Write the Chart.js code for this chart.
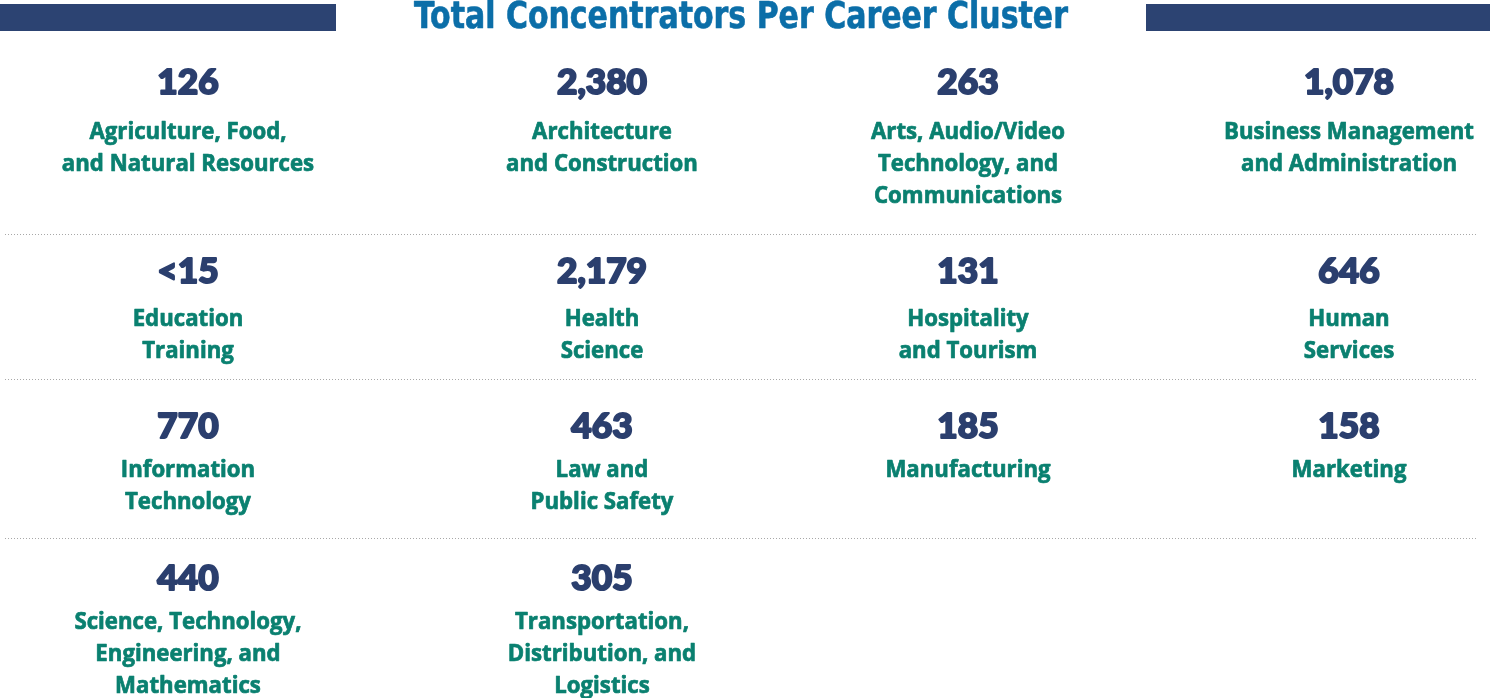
<!DOCTYPE html>
<html>
<head>
<meta charset="utf-8">
<script src="https://cdn.jsdelivr.net/npm/chart.js@4"></script>
<style>
  html, body { margin: 0; padding: 0; background: #ffffff; }
  #wrap { width: 1490px; height: 698px; }
</style>
</head>
<body>
<div id="wrap"><canvas id="c" width="1490" height="698"></canvas></div>
<script>
// ---------- DATA ----------
const chartTitle = "Total Concentrators Per Career Cluster";
const categories = [
  "Agriculture, Food,\nand Natural Resources",
  "Architecture\nand Construction",
  "Arts, Audio/Video\nTechnology, and\nCommunications",
  "Business Management\nand Administration",
  "Education\nTraining",
  "Health\nScience",
  "Hospitality\nand Tourism",
  "Human\nServices",
  "Information\nTechnology",
  "Law and\nPublic Safety",
  "Manufacturing",
  "Marketing",
  "Science, Technology,\nEngineering, and\nMathematics",
  "Transportation,\nDistribution, and\nLogistics"
];
const concentrators = [126, 2380, 263, 1078, "<15", 2179, 131, 646, 770, 463, 185, 158, 440, 305];

// ---------- LAYOUT (grid placement, in scale units) ----------
const columnCenters = [188, 602, 968, 1349];
const rowNumberY = [83, 272, 427, 579];
const rowLabelGap = [49, 47, 43, 43];
const separatorsY = [234, 379, 538];
const lineHeight = 32;

const COL_TITLE = "#0b6ea8";
const COL_BAR = "#2c4372";
const COL_NUM = "#2b3f6e";
const COL_LABEL = "#0a8070";

function fmt(v) {
  return typeof v === "number" ? v.toLocaleString("en-US") : v;
}

const points = categories.map((c, i) => ({
  x: columnCenters[i % 4],
  y: rowNumberY[Math.floor(i / 4)],
  row: Math.floor(i / 4)
}));

function fitScale(ctx, text, target) {
  const w = ctx.measureText(text).width;
  return w > 0 ? target / w : 1;
}

function heavyText(ctx, text, x, y, sx, color, stroke) {
  ctx.save();
  ctx.translate(x, y);
  ctx.scale(sx, 1);
  ctx.fillStyle = color;
  ctx.fillText(text, 0, 0);
  if (stroke > 0) {
    ctx.strokeStyle = color;
    ctx.lineWidth = stroke;
    ctx.lineJoin = "round";
    ctx.strokeText(text, 0, 0);
  }
  ctx.restore();
}

const infographicPlugin = {
  id: "infographic",
  afterDatasetsDraw(chart) {
    const ctx = chart.ctx;
    const xs = chart.scales.x, ys = chart.scales.y;
    ctx.save();

    // Title bars
    ctx.fillStyle = COL_BAR;
    const by0 = ys.getPixelForValue(4), by1 = ys.getPixelForValue(31);
    ctx.fillRect(xs.getPixelForValue(0), by0, xs.getPixelForValue(336) - xs.getPixelForValue(0), by1 - by0);
    ctx.fillRect(xs.getPixelForValue(1146), by0, xs.getPixelForValue(1490) - xs.getPixelForValue(1146), by1 - by0);

    // Title
    ctx.font = "bold 37px 'Liberation Sans Narrow', 'DejaVu Sans Condensed', sans-serif";
    ctx.textAlign = "center";
    ctx.textBaseline = "middle";
    const s = fitScale(ctx, chartTitle, 654);
    heavyText(ctx, chartTitle, xs.getPixelForValue(741), ys.getPixelForValue(18), s, COL_TITLE, 0.6);

    // Dotted separators
    ctx.strokeStyle = "#a8a8a8";
    ctx.lineWidth = 1;
    ctx.setLineDash([1, 2]);
    separatorsY.forEach(y => {
      const py = Math.round(ys.getPixelForValue(y)) + 0.5;
      ctx.beginPath();
      ctx.moveTo(xs.getPixelForValue(5), py);
      ctx.lineTo(xs.getPixelForValue(1478), py);
      ctx.stroke();
    });
    ctx.setLineDash([]);

    // Cells
    const meta = chart.getDatasetMeta(0);
    const numFont = "900 35px Lato, 'Open Sans', sans-serif";
    const labFont = "bold 23px 'Open Sans', Roboto, sans-serif";
    ctx.font = numFont;
    const numScale = fitScale(ctx, "2,380", 90);
    ctx.font = labFont;
    const labScale = fitScale(ctx, "Business Management", 250);

    meta.data.forEach((el, i) => {
      const p = points[i];
      const cx = el.x, cy = el.y;
      ctx.textAlign = "center";
      ctx.textBaseline = "middle";
      ctx.font = numFont;
      heavyText(ctx, fmt(concentrators[i]), cx, cy, numScale, COL_NUM, 2);
      ctx.font = labFont;
      const lines = categories[i].split("\n");
      const y0 = ys.getPixelForValue(p.y + rowLabelGap[p.row]);
      lines.forEach((ln, k) => {
        heavyText(ctx, ln, cx, y0 + k * lineHeight, labScale, COL_LABEL, 0.7);
      });
    });
    ctx.restore();
  }
};

new Chart(document.getElementById("c"), {
  type: "scatter",
  data: {
    datasets: [{
      label: "Concentrators",
      data: points.map(p => ({ x: p.x, y: p.y })),
      pointRadius: 0,
      pointHoverRadius: 0
    }]
  },
  options: {
    responsive: false,
    animation: false,
    layout: { padding: 0 },
    plugins: { legend: { display: false }, tooltip: { enabled: false }, title: { display: false } },
    scales: {
      x: { type: "linear", min: 0, max: 1490, display: false },
      y: { type: "linear", min: 0, max: 698, reverse: true, display: false }
    }
  },
  plugins: [infographicPlugin]
});
</script>
</body>
</html>
